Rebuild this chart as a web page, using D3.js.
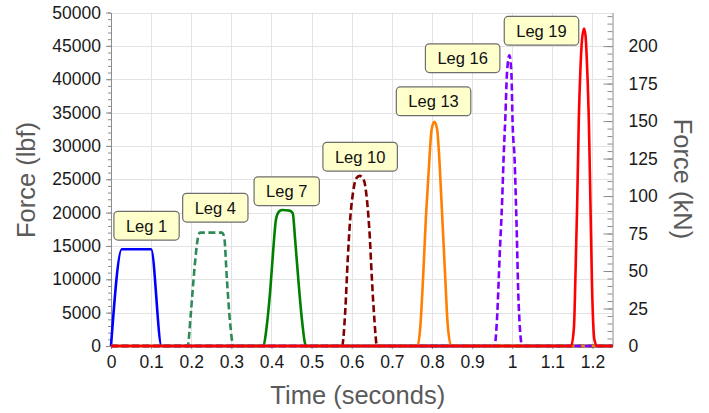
<!DOCTYPE html>
<meta charset="utf-8">
<head>
<style>
  body { margin: 0; background: #fff; }
  svg { font-family: "Liberation Sans", Arial, sans-serif; }
  .axis text { font-size: 17.5px; fill: #1a1a1a; }
  .axis path, .axis line { stroke: #8c8c8c; }
  .grid line { stroke: #e3e3e3; stroke-width: 1; }
  .title { font-size: 25.5px; fill: #5a5a5a; }
  .callout text { font-size: 16.5px; fill: #111; }
</style>
</head>
<body>
<div id="chart"></div>
<script src="https://cdnjs.cloudflare.com/ajax/libs/d3/7.8.5/d3.min.js"></script>
<script>

// ---- data (time in s, force in lbf) ----
var legNames = ["Leg 1", "Leg 4", "Leg 7", "Leg 10", "Leg 13", "Leg 16", "Leg 19"];

var leg1 = [[0, 0], [0.027, 14500], [0.100, 14500], [0.126, 0], [1.25, 0]];
var leg4 = [[0, 0], [0.191, 0], [0.199, 4900], [0.207, 10900], [0.218, 16600], [0.222, 17000],
            [0.276, 17000], [0.282, 16400], [0.289, 9900], [0.297, 3400], [0.305, 0], [1.25, 0]];
var leg7 = [[0, 0], [0.380, 0], [0.387, 2400], [0.397, 8400], [0.405, 14900], [0.411, 18900],
            [0.418, 20100], [0.426, 20400], [0.445, 20300], [0.453, 19900], [0.459, 15900],
            [0.467, 9900], [0.476, 3900], [0.486, 0], [1.25, 0]];
var leg10 = [[0, 0], [0.576, 0], [0.584, 5400], [0.590, 12900], [0.596, 18900], [0.603, 22900],
             [0.611, 25100], [0.620, 25500], [0.630, 24900], [0.638, 21900], [0.645, 16400],
             [0.650, 10400], [0.656, 4400], [0.663, 0], [1.25, 0]];
var leg13 = [[0, 0], [0.764, 0], [0.771, 2900], [0.778, 10400], [0.785, 19400], [0.793, 27400],
             [0.799, 32400], [0.806, 33600], [0.813, 32400], [0.819, 27400], [0.826, 18900],
             [0.833, 10400], [0.839, 3400], [0.848, 0], [1.25, 0]];
var leg16 = [[0, 0], [0.956, 0], [0.962, 3900], [0.969, 13900], [0.975, 21900], [0.979, 28900],
             [0.983, 34400], [0.987, 40900], [0.993, 43600], [0.998, 40900], [1.001, 33400],
             [1.006, 27900], [1.011, 17900], [1.016, 6400], [1.025, 0], [1.25, 0]];
var leg19 = [[0, 0], [1.147, 0], [1.154, 2900], [1.158, 11400], [1.162, 21400], [1.166, 33900],
             [1.170, 41400], [1.174, 45900], [1.179, 47600], [1.183, 46400], [1.187, 41400],
             [1.191, 33900], [1.195, 21400], [1.199, 8900], [1.205, 900], [1.212, 0], [1.25, 0]];

var legData = [leg1, leg4, leg7, leg10, leg13, leg16, leg19];

// where each callout box sits (centre, in time / lbf)
var labelTime  = [0.0886, 0.260, 0.438, 0.621, 0.804, 0.8765, 1.073];
var labelForce = [18036, 20735, 23208, 28380, 36687, 43148, 47256];

var timeTicks = [0, 0.1, 0.2, 0.3, 0.4, 0.5, 0.6, 0.7, 0.8, 0.9, 1, 1.1, 1.2];
var lbfTicks = [0, 5000, 10000, 15000, 20000, 25000, 30000, 35000, 40000, 45000, 50000];
var kNTicks = [0, 25, 50, 75, 100, 125, 150, 175, 200];

// styles
var colors = ["#0000ff", "#2e8b57", "#008000", "#800000", "#ff8000", "#8000ff", "#ff0000"];
var dashed = [false, true, false, true, false, true, false];

var LBF_TO_KN = 0.0044482216;

var W = 709, H = 413;
var plotL = 111, plotR = 612.5, plotT = 12.5, plotB = 346;

var svg = d3.select("#chart").append("svg")
    .attr("width", W)
    .attr("height", H);

var x = d3.scaleLinear().domain([0, 1.25]).range([plotL, plotR]);
var y = d3.scaleLinear().domain([0, 50000]).range([plotB, plotT]);
var yKN = d3.scaleLinear().domain([0, 50000 * LBF_TO_KN]).range([plotB, plotT]);

// grid
var grid = svg.append("g").attr("class", "grid");
grid.selectAll(".v").data(timeTicks.slice(1)).enter().append("line")
    .attr("x1", function(d) { return Math.round(x(d)) + 0.5; })
    .attr("x2", function(d) { return Math.round(x(d)) + 0.5; })
    .attr("y1", plotT).attr("y2", plotB);
grid.selectAll(".h").data(lbfTicks.slice(1)).enter().append("line")
    .attr("x1", plotL).attr("x2", plotR)
    .attr("y1", function(d) { return Math.round(y(d)) + 0.5; })
    .attr("y2", function(d) { return Math.round(y(d)) + 0.5; });

// left axis, minor ticks first
svg.append("g")
    .attr("class", "axis")
    .attr("transform", "translate(" + plotL + ",0)")
    .call(d3.axisLeft(y).tickValues(d3.range(0, 50001, 1000)).tickSize(3).tickFormat(""))
    .select(".domain").remove();
svg.append("g")
    .attr("class", "axis")
    .attr("transform", "translate(" + plotL + ",0)")
    .call(d3.axisLeft(y).tickValues(lbfTicks).tickSize(5).tickSizeOuter(0).tickPadding(5)
        .tickFormat(d3.format("d")));

// right axis (kN), ticks point inward
svg.append("g")
    .attr("class", "axis")
    .attr("transform", "translate(" + plotR + ",0)")
    .call(d3.axisRight(yKN).tickValues(d3.range(0, 221, 5)).tickSize(-5).tickFormat(""))
    .select(".domain").remove();
svg.append("g")
    .attr("class", "axis")
    .attr("transform", "translate(" + plotR + ",0)")
    .call(d3.axisRight(yKN).tickValues(kNTicks).tickSize(-9).tickSizeOuter(0).tickPadding(16));

// bottom axis
svg.append("g")
    .attr("class", "axis")
    .attr("transform", "translate(0," + plotB + ")")
    .call(d3.axisBottom(x).tickValues(timeTicks).tickSize(3).tickSizeOuter(0).tickPadding(7)
        .tickFormat(function(d) { return +d.toFixed(1); }));

// lines
var line = d3.line()
    .x(function(d) { return x(d[0]); })
    .y(function(d) { return y(d[1]); })
    .curve(d3.curveMonotoneX);

svg.selectAll(".leg")
    .data(legData)
  .enter().append("path")
    .attr("class", "leg")
    .attr("d", line)
    .attr("fill", "none")
    .attr("stroke", function(d, i) { return colors[i]; })
    .attr("stroke-width", 2.6)
    .attr("stroke-linejoin", "round")
    .attr("stroke-dasharray", function(d, i) { return dashed[i] ? "7,3.5" : null; });

// callouts
var callout = svg.selectAll(".callout")
    .data(legNames)
  .enter().append("g")
    .attr("class", "callout")
    .attr("transform", function(d, i) {
      return "translate(" + x(labelTime[i]) + "," + y(labelForce[i]) + ")";
    });

callout.append("text")
    .attr("text-anchor", "middle")
    .attr("dy", "0.36em")
    .text(function(d) { return d; });

callout.insert("rect", "text")
    .each(function() {
      var bb = this.parentNode.querySelector("text").getBBox();
      var w = bb.width + 24, h = 28.7;
      d3.select(this)
        .attr("x", -w / 2).attr("y", -h / 2)
        .attr("width", w).attr("height", h);
    })
    .attr("rx", 4)
    .attr("fill", "#ffffcc")
    .attr("stroke", "#6e6e6e")
    .attr("stroke-width", 1.2);

// axis titles
svg.append("text")
    .attr("class", "title")
    .attr("text-anchor", "middle")
    .attr("x", (plotL + plotR) / 2 - 4)
    .attr("y", 404)
    .text("Time (seconds)");

svg.append("text")
    .attr("class", "title")
    .attr("text-anchor", "middle")
    .attr("transform", "translate(35,180) rotate(-90)")
    .text("Force (lbf)");

svg.append("text")
    .attr("class", "title")
    .attr("text-anchor", "middle")
    .attr("transform", "translate(674,179) rotate(90)")
    .text("Force (kN)");

</script>
</body>
